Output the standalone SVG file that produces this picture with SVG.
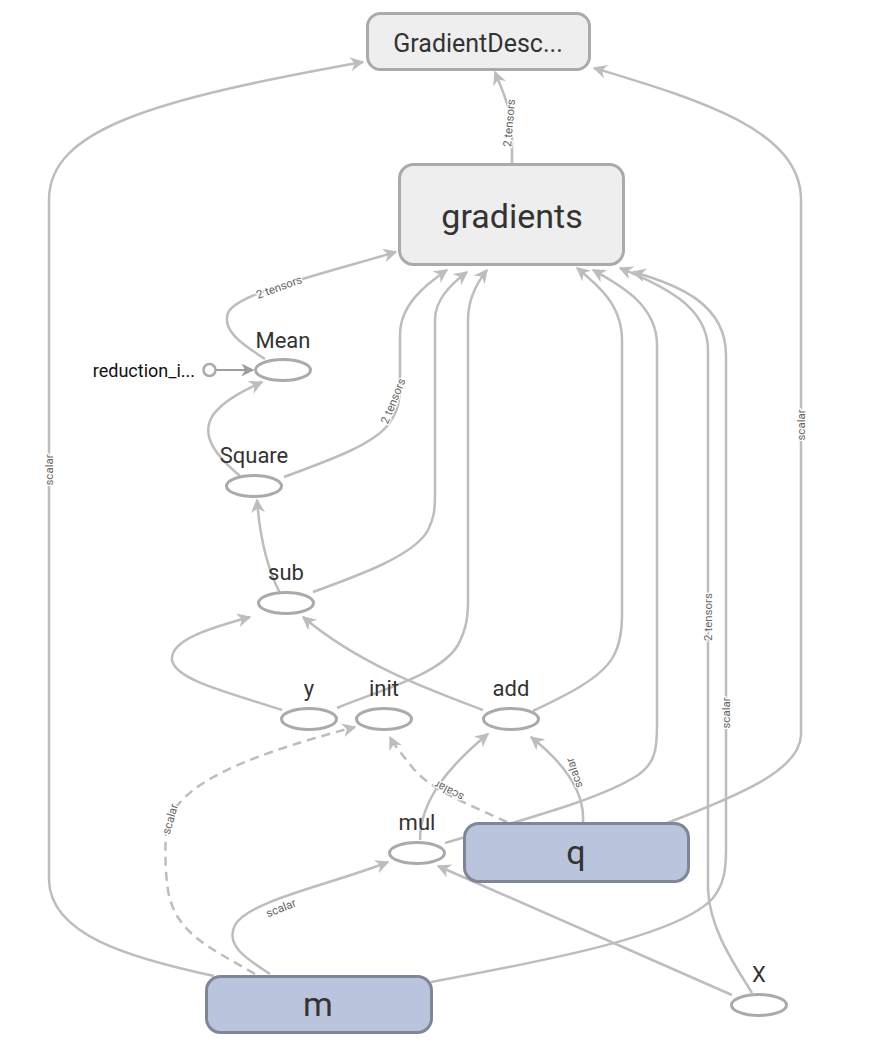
<svg xmlns="http://www.w3.org/2000/svg" width="876" height="1049" viewBox="0 0 876 1049">
<style>
.e{fill:none;stroke:#bdbdbd;stroke-width:2.5;marker-end:url(#ah)}
.d{stroke-dasharray:9 6}
.el{font-family:Roboto,"Liberation Sans",sans-serif;font-size:11.5px;fill:#666;text-anchor:middle;stroke:#fff;stroke-width:2.5px;paint-order:stroke}
.op{fill:#fff;stroke:#aaa;stroke-width:3}
.nl{font-family:Roboto,"Liberation Sans",sans-serif;font-size:22px;fill:#333;text-anchor:middle}
.gr{fill:#eee;stroke:#aaa;stroke-width:3}
.bl{fill:#bac4dc;stroke:#7f8696;stroke-width:3}
.bt{font-family:Roboto,"Liberation Sans",sans-serif;fill:#333;text-anchor:middle}
</style>
<defs>
<marker id="ah" viewBox="0 0 10 10" refX="9" refY="5" markerUnits="userSpaceOnUse" markerWidth="14" markerHeight="14" orient="auto">
<path d="M0,0 L10,5 L0,10 L3,5 Z" fill="#bdbdbd"/>
</marker>
<marker id="ah2" viewBox="0 0 10 10" refX="9" refY="5" markerUnits="userSpaceOnUse" markerWidth="13" markerHeight="13" orient="auto">
<path d="M0,0 L10,5 L0,10 L3,5 Z" fill="#9e9e9e"/>
</marker>
</defs>
<rect width="876" height="1049" fill="#fff"/>
<g id="edges">
<path class="e" d="M214,976 C130,958 50,935 49,880 L49,200 C49,130 150,100 363,62"/>
<text class="el" transform="translate(49,470) rotate(-90)" dy="0.35em">scalar</text>
<path class="e" d="M667,823 C740,795 800,770 801,735 L801,200 C801,130 700,100 594,68"/>
<text class="el" transform="translate(801,425) rotate(-90)" dy="0.35em">scalar</text>
<path class="e" d="M512,164 L512,135 C512,110 503,92 495,72"/>
<text class="el" transform="translate(509,123) rotate(-85)" dy="0.35em">2 tensors</text>
<path class="e" d="M265,359 C240,343 222,330 228,313 C235,295 300,280 396,252"/>
<text class="el" transform="translate(279,287) rotate(-20)" dy="0.35em">2 tensors</text>
<path class="e" d="M284,477 C330,460 372,445 388,425 C399,410 400,400 400,380 L400,335 C400,305 425,285 447,270"/>
<text class="el" transform="translate(393,401) rotate(-68)" dy="0.35em">2 tensors</text>
<path class="e" d="M313,592 C360,575 415,555 428,530 C434,518 435,510 435,495 L435,320 C435,300 450,285 467,272"/>
<path class="e" d="M337,708 C380,690 440,675 458,645 C467,628 468,615 468,600 L468,320 C468,300 475,285 487,270"/>
<path class="e" d="M533,711 C560,698 600,680 613,657 C620,645 622,630 622,615 L622,340 C622,305 598,285 577,268"/>
<path class="e" d="M445,843 C520,820 600,800 638,775 C655,763 657,750 657,725 L657,345 C657,305 620,285 593,270"/>
<path class="e" d="M752,993 C735,965 710,930 708,890 L708,350 C708,305 660,285 620,268"/>
<text class="el" transform="translate(708,617) rotate(-90)" dy="0.35em">2 tensors</text>
<path class="e" d="M431,982 C550,960 680,935 713,898 C724,884 726,870 726,850 L726,355 C726,305 680,285 633,272"/>
<text class="el" transform="translate(726,713) rotate(-90)" dy="0.35em">scalar</text>
<path class="e" d="M240,476 C215,455 200,435 213,415 C224,400 245,390 262,382"/>
<path class="e" d="M280,593 C268,570 260,540 257,500"/>
<path class="e" d="M282,710 C230,693 175,680 172,660 C170,640 210,628 250,617"/>
<path class="e" d="M483,710 C430,690 360,665 303,617"/>
<path class="e" d="M420,840 C420,800 450,765 488,734"/>
<path class="e" d="M583,822 C585,790 560,760 531,737"/>
<text class="el" transform="translate(574,773) rotate(-108)" dy="0.35em">scalar</text>
<path class="e d" d="M507,822 C470,805 430,790 412,767 C402,754 394,745 390,737"/>
<text class="el" transform="translate(449,791) rotate(-152)" dy="0.35em">scalar</text>
<path class="e d" d="M255,974 C215,950 175,935 168,890 C165,870 165,850 166,835 C168,790 230,760 355,727"/>
<text class="el" transform="translate(170,819) rotate(-74)" dy="0.35em">scalar</text>
<path class="e" d="M270,974 C245,958 225,945 235,925 C250,900 330,885 388,862"/>
<text class="el" transform="translate(281,908) rotate(-22)" dy="0.35em">scalar</text>
<path class="e" d="M732,995 C640,955 540,910 438,866"/>
<path d="M216,370 L253,370" fill="none" stroke="#9e9e9e" stroke-width="2" marker-end="url(#ah2)"/>
</g>
<g id="GradientDescent">
<rect class="gr" x="367.5" y="13.5" width="222" height="56" rx="13"/>
<text class="bt" x="478" y="52" font-size="25">GradientDesc...</text>
</g>
<g id="gradients">
<rect class="gr" x="399.5" y="164.5" width="224" height="100" rx="14"/>
<text class="bt" x="512" y="228" font-size="34">gradients</text>
</g>
<g id="reduction_indices">
<circle cx="209.5" cy="370" r="6" fill="#fff" stroke="#aaa" stroke-width="2.5"/>
<text x="195" y="377" font-family="Roboto,'Liberation Sans',sans-serif" font-size="18" fill="#111" text-anchor="end">reduction_i...</text>
</g>
<g id="Mean">
<ellipse class="op" cx="283" cy="370" rx="27.5" ry="10.5"/>
<text class="nl" x="283" y="348">Mean</text>
</g>
<g id="Square">
<ellipse class="op" cx="254" cy="486" rx="27.5" ry="10.5"/>
<text class="nl" x="254" y="463">Square</text>
</g>
<g id="sub">
<ellipse class="op" cx="286" cy="603" rx="27.5" ry="10.5"/>
<text class="nl" x="286" y="580">sub</text>
</g>
<g id="y">
<ellipse class="op" cx="309" cy="719" rx="27.5" ry="10.5"/>
<text class="nl" x="309" y="696">y</text>
</g>
<g id="init">
<ellipse class="op" cx="384" cy="719" rx="27.5" ry="10.5"/>
<text class="nl" x="384" y="696">init</text>
</g>
<g id="add">
<ellipse class="op" cx="511" cy="719" rx="27.5" ry="10.5"/>
<text class="nl" x="511" y="696">add</text>
</g>
<g id="mul">
<ellipse class="op" cx="417" cy="853" rx="27.5" ry="10.5"/>
<text class="nl" x="417" y="830">mul</text>
</g>
<g id="q">
<rect class="bl" x="464.5" y="823.5" width="224" height="58" rx="14"/>
<text class="bt" x="576" y="864" font-size="34">q</text>
</g>
<g id="m">
<rect class="bl" x="206.5" y="976.5" width="225" height="56" rx="14"/>
<text class="bt" x="318" y="1016" font-size="34">m</text>
</g>
<g id="X">
<ellipse class="op" cx="759" cy="1005" rx="27.5" ry="10.5"/>
<text class="nl" x="759" y="982">X</text>
</g>
</svg>
